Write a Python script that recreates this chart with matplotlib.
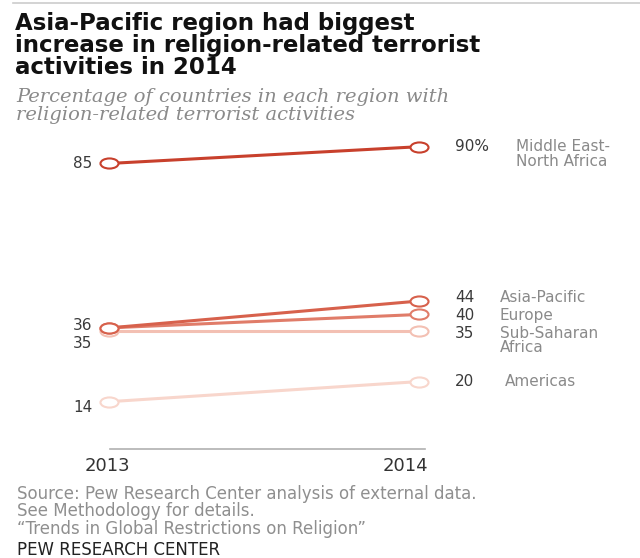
import matplotlib
matplotlib.use("Agg")
import matplotlib.pyplot as plt
from matplotlib.path import Path
from matplotlib.transforms import Affine2D
import matplotlib.lines as mlines

years = [2013, 2014]
regions = ["Middle East-\nNorth Africa", "Asia-Pacific", "Europe", "Sub-Saharan\nAfrica", "Americas"]
values_2013 = [85, 36, 36, 35, 14]
values_2014 = [90, 44, 40, 35, 20]
right_labels = ["90%", "44", "40", "35", "20"]
left_labels = ["85", "36", "35", "14"]
colors = ["#C8402C", "#D7614C", "#E07C69", "#F3C0B3", "#F8D6CC"]

W, H = 640, 558
fig = plt.figure(figsize=(W / 100, H / 100), dpi=100)
fig.patch.set_facecolor("white")

# axes placement in pixels
x0, x1 = 109, 419
y_top, y_bot = 146.7, 401.7
ax = fig.add_axes([x0 / W, 1 - y_bot / H, (x1 - x0) / W, (y_bot - y_top) / H])
ax.set_xlim(2013, 2014)
ax.set_ylim(14, 90)
ax.axis("off")

ellipse = Path.unit_circle().transformed(Affine2D().scale(1.0, 0.56))

for i in [4, 3, 2, 1, 0]:
    ax.plot(years, [values_2013[i], values_2014[i]], color=colors[i], lw=2.2,
            solid_capstyle="round", clip_on=False, zorder=2)
    ax.plot(years, [values_2013[i], values_2014[i]], ls="none", marker=ellipse,
            markersize=13, markerfacecolor="white", markeredgecolor=colors[i],
            markeredgewidth=1.5, clip_on=False, zorder=3)

numcol = "#3a3a3a"
labcol = "#8a8a8a"
fs = 11

# left labels (nudged slightly apart so they do not collide)
left_pos = [85.1, 36.8, 31.4, 12.4]
for t, p in zip(left_labels, left_pos):
    ax.annotate(t, xy=(2013, p), xytext=(-12, 0), textcoords="offset points",
                ha="right", va="center", fontsize=fs, color=numcol,
                annotation_clip=False)

# right labels
right_pos = [90, 45.2, 39.8, 34.4, 20]
for i in range(5):
    ax.annotate(right_labels[i], xy=(2014, right_pos[i]), xytext=(26, 0),
                textcoords="offset points", ha="left", va="center",
                fontsize=fs, color=numcol, annotation_clip=False)
name_off = [70, 58, 58, 58, 62]
for i in range(5):
    two = "\n" in regions[i]
    ax.annotate(regions[i], xy=(2014, right_pos[i]),
                xytext=(name_off[i], -5.2 if two else 0),
                textcoords="offset points", ha="left", va="center",
                fontsize=fs, color=labcol, linespacing=0.95,
                annotation_clip=False)

# baseline axis line
fig.add_artist(mlines.Line2D([110 / W, 425 / W], [1 - 449 / H, 1 - 449 / H],
                             color="#b0b0b0", lw=1.2))
fig.text(107 / W, 1 - 466 / H, "2013", ha="center", va="center", fontsize=13, color="#333333")
fig.text(405 / W, 1 - 466 / H, "2014", ha="center", va="center", fontsize=13, color="#333333")

# top rule
fig.add_artist(mlines.Line2D([13 / W, 1.0], [1 - 3 / H, 1 - 3 / H], color="#cccccc", lw=1.2))

# title
title = ("Asia-Pacific region had biggest\n"
         "increase in religion-related terrorist\n"
         "activities in 2014")
fig.text(15 / W, 1 - 45.5 / H, title, ha="left", va="center", linespacing=0.92,
         fontsize=16.5, fontweight="bold", color="#111111")

subtitle = ("Percentage of countries in each region with\n"
            "religion-related terrorist activities")
fig.text(16 / W, 1 - 106 / H, subtitle, ha="left", va="center", linespacing=0.95,
         fontsize=14, style="italic", family="DejaVu Serif", color="#8a8a8a")

foot = ("Source: Pew Research Center analysis of external data.\n"
        "See Methodology for details.\n"
        "\u201cTrends in Global Restrictions on Religion\u201d")
fig.text(17 / W, 1 - 511.5 / H, foot, ha="left", va="center", linespacing=0.93,
         fontsize=12, color="#8f8f8f")
fig.text(17 / W, 1 - 550 / H, "PEW RESEARCH CENTER", ha="left", va="center",
         fontsize=12, color="#222222")

fig.savefig("out.png", dpi=100, facecolor="white")
